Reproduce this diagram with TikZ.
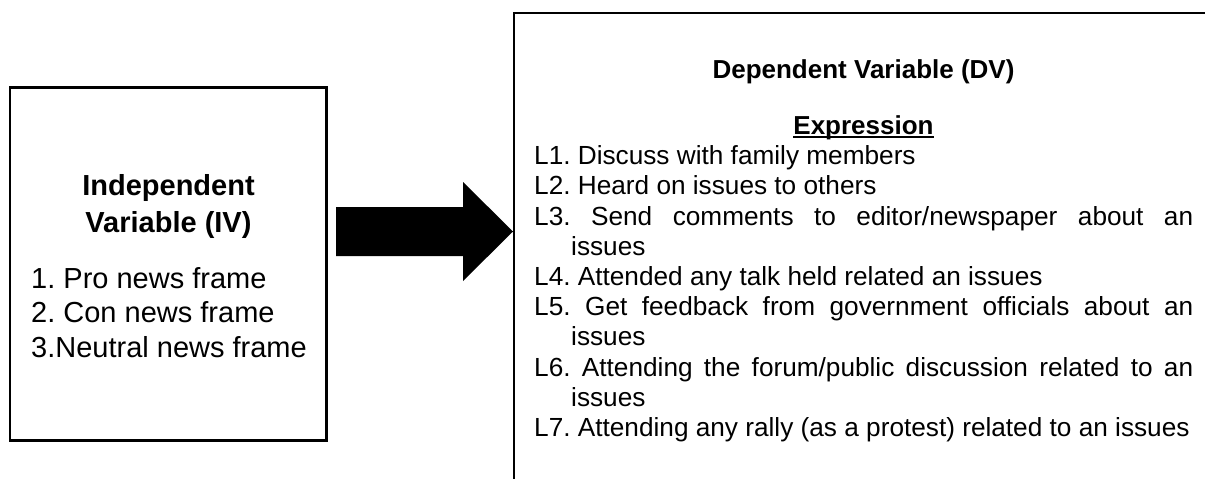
\documentclass[tikz,border=0pt]{standalone}
\usepackage{fontspec}
\setmainfont{Liberation Sans}
\frenchspacing
\newcommand\dvitem{\par\hangindent=37pt\hangafter=1 }
\tikzset{
  varbox/.style={draw, line width=2.5pt, inner sep=0pt},
  boxtitle/.style={font=\fontsize{29}{37}\selectfont\bfseries, align=center, anchor=base},
  ivlist/.style={font=\fontsize{29}{34.5}\selectfont, align=left, anchor=base west, inner sep=0pt},
  dvhead/.style={font=\fontsize{26}{29}\selectfont\bfseries, anchor=base, inner sep=0pt},
  dvlist/.style={font=\fontsize{26.2}{30.2}\selectfont, text width=659pt, align=justify,
    anchor=base west, inner sep=0pt}
}

\begin{document}
\begin{tikzpicture}[x=1pt, y=-1pt]
  \useasboundingbox (0,0) rectangle (1205,479);
  \clip (0,0) rectangle (1205,479);
  % boxes
  \node[varbox, minimum width=316.5pt, minimum height=353pt] (iv) at (168.25,264) {};
  \node[varbox, minimum width=786pt, minimum height=547pt] (dv) at (907,286.5) {};
  % independent side
  \node[boxtitle] (ivtitle) at (168.5,232) {Independent\\Variable (IV)};
  \node[ivlist] (ivitems) at (31,357) {1. Pro news frame\\2. Con news frame\\3.Neutral news frame};
  % dependent side
  \node[dvhead] (dvtitle) at (863.5,78) {Dependent Variable (DV)};
  \node[dvhead] (expr) at (863.5,134) {Expression};
  \draw[line width=1.6pt] ([yshift=-3pt]expr.base west) -- ([yshift=-3pt]expr.base east);
  \node[dvlist] (dvitems) at (534,134.5) {\parindent=0pt
    \dvitem L1. Discuss with family members
    \dvitem L2. Heard on issues to others
    \dvitem L3. Send comments to editor/newspaper about an\linebreak issues
    \dvitem L4. Attended any talk held related an issues
    \dvitem L5. Get feedback from government officials about an\linebreak issues
    \dvitem L6. Attending the forum/public discussion related to an\linebreak issues
    \dvitem L7. Attending any rally (as a protest) related to an issues\par};
  % arrow from IV to DV
  \coordinate (tip) at (513,231.5);
  \fill (tip) -- ++(-50,-49.5) -- ++(0,25) -- ++(-127,0) -- ++(0,49)
    -- ++(127,0) -- ++(0,25) -- cycle;
\end{tikzpicture}
\end{document}
